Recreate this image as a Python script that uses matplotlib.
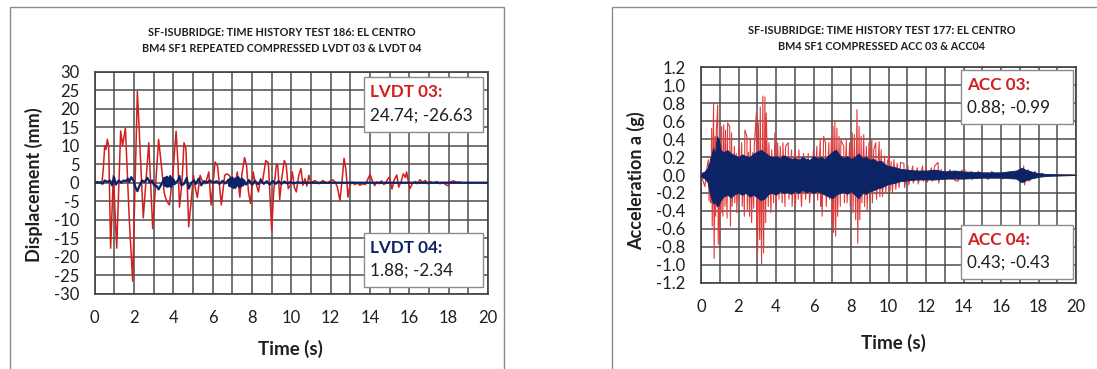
import matplotlib
matplotlib.use("Agg")
import matplotlib.pyplot as plt
from matplotlib.patches import Rectangle
from matplotlib.ticker import MultipleLocator

plt.rcParams['font.family'] = ['Lato', 'DejaVu Sans']
plt.rcParams['axes.unicode_minus'] = False

# ---- Test 186: LVDT displacements (mm), peaks ----
lvdt03_t = [0.0, 0.15, 0.30, 0.38, 0.44, 0.51, 0.58, 0.64, 0.71, 0.81,
            0.95, 1.12, 1.32, 1.42, 1.56, 1.76, 1.93, 2.17, 2.47, 2.75,
            2.95, 3.25, 3.32, 3.39, 3.53, 3.59, 3.69, 3.80, 3.97, 4.14,
            4.24, 4.31, 4.44, 4.54, 4.64, 4.78, 4.92, 5.02, 5.12, 5.22,
            5.36, 5.46, 5.63, 5.80, 5.92, 6.12, 6.25, 6.44, 6.61, 6.71,
            6.83, 6.94, 7.05, 7.18, 7.25, 7.38, 7.48, 7.62, 7.72, 7.82,
            7.92, 8.06, 8.12, 8.23, 8.33, 8.43, 8.53, 8.70, 8.83, 9.00,
            9.10, 9.24, 9.31, 9.41, 9.51, 9.64, 9.74, 9.84, 9.95, 10.05,
            10.15, 10.25, 10.38, 10.49, 10.59, 10.69, 10.79, 10.89, 10.99, 11.2,
            11.4, 11.6, 11.8, 11.97, 12.10, 12.24, 12.34, 12.47, 12.58, 12.68,
            12.78, 12.88, 12.98, 13.08, 13.22, 13.36, 13.49, 13.63, 13.76, 13.86,
            14.0, 14.14, 14.24, 14.34, 14.47, 14.58, 14.68, 14.78, 14.88, 14.98,
            15.12, 15.22, 15.36, 15.46, 15.59, 15.69, 15.80, 15.86, 15.97, 16.03,
            16.17, 16.31, 16.41, 16.54, 16.68, 16.81, 16.92, 17.05, 17.22, 17.39,
            17.56, 17.73, 17.86, 17.97, 18.07, 18.24, 18.41, 18.58]
lvdt03_v = [0, 0.3, -0.2, 0.5, 4, 10, 9, 11.7, 10, -17.7,
            2, -17.7, 14, 10, 14.8, -10, -26.6, 24.7, -9.5, 10.8,
            -12.4, 11.7, 8, 4.6, -2.5, -3.9, -5.2, -6, 2, 13.9,
            4.6, -6.6, 0.2, 10.8, 9.2, -11.9, -4.3, 2, -1.6, -4,
            2, 0.6, -0.3, 2.9, -6, 5.6, 4.5, -6, 2, 2.4,
            2, 1.3, -1.6, 0.2, 2.9, -3.9, 2, 6.8, 4.7, -2.5,
            -5.6, 2.9, 1.1, -0.7, -2.5, 1.1, 0.2, 6, 5.4, -12.9,
            -2.5, 5, 4.7, -4.5, 1.1, 6, 4.7, -1.6, -0.7, 2.9,
            -1.2, -2.5, 2, 3.8, -0.7, 1.1, -0.9, 2, 0, 0.6,
            -0.3, 0.6, -0.2, 0.4, 0.8, 0.1, -1.2, -4.8, 0.6, 6.6,
            3.3, -3.9, -0.7, 0.2, -0.5, -0.1, -0.7, -0.3, -0.5, 0.6,
            2.3, 0.2, -0.8, 0.2, -0.3, 0.5, -0.4, -0.3, 0.8, 1.5,
            -1.7, 0.6, 2.1, -1.2, 0.4, 2.4, 1.4, 2.9, -0.3, -1.6,
            -0.1, 0.3, -0.3, 0.8, 0.1, 0.6, -0.3, 0.3, -0.1, 0.3,
            -0.3, 0.1, -0.6, -0.8, 0.1, 0.5, 0.1, 0.2]

lvdt04_t = [0, 0.3, 0.4, 0.51, 0.64, 0.78, 0.88, 0.98, 1.08, 1.22,
            1.36, 1.46, 1.59, 1.69, 1.76, 1.86, 1.97, 2.07, 2.17, 2.27,
            2.41, 2.54, 2.68, 2.81, 2.92, 3.02, 3.15, 3.25, 3.36, 3.46,
            3.52, 3.56, 3.60, 3.64, 3.68, 3.72, 3.76, 3.80, 3.84, 3.88,
            3.92, 3.96, 4.00, 4.06, 4.14, 4.24, 4.31, 4.41, 4.54, 4.68,
            4.78, 4.92, 5.05, 5.15, 5.29, 5.42, 5.56, 5.70, 5.86, 6.03,
            6.2, 6.35, 6.5, 6.65, 6.8, 6.85, 6.9, 6.95, 7.0, 7.05,
            7.1, 7.15, 7.2, 7.25, 7.3, 7.35, 7.4, 7.45, 7.5, 7.55,
            7.6, 7.7, 7.85, 8.0, 8.15, 8.3, 8.45, 8.6, 8.75, 8.9,
            9.05, 9.2, 9.35, 9.5, 9.65, 9.8, 9.95, 10.1, 10.3, 10.5,
            10.8, 20]
lvdt04_v = [0, 0.1, -0.3, 0.6, 0.2, 0.6, -0.7, 1.5, -0.5, 0.6,
            0, 0.6, 0.4, 1.1, 0.2, 1.5, 0.6, -1.2, -2.3, -0.9,
            0.6, 0.2, 1.3, 0, 0.6, -0.7, -0.9, -1.8, -0.7, 0.2,
            1.2, -0.8, 1.4, -1.0, 1.6, -1.1, 1.3, -0.9, 1.8, -1.2,
            1.2, -0.6, 0.9, -0.4, 0.2, 0.6, 1.8, -0.7, -0.3, 1.3,
            -1.6, 0, 0.6, -0.3, 1.1, -0.7, 0.4, 0, 0.6, 0,
            0.4, -0.3, 0.5, -0.2, 0.8, -0.9, 1.2, -1.1, 1.4, -1.3,
            1.0, -1.4, 1.3, -0.8, 1.5, -1.2, 0.9, -1.0, 1.1, -0.7,
            0.6, -0.5, 0.7, -0.6, 0.5, -0.4, 0.6, -0.3, 0.4, -0.5,
            0.5, -0.3, 0.4, -0.3, 0.3, -0.2, 0.2, -0.2, 0.1, 0,
            0, 0]

# ---- Test 177: accelerations (g) ----
acc03_t = [0, 0.21, 0.30, 0.39, 0.43, 0.50, 0.53, 0.57, 0.60, 0.67,
           0.70, 0.75, 0.78, 0.82, 0.89, 0.92, 0.96, 0.99, 1.03, 1.07,
           1.10, 1.17, 1.21, 1.28, 1.31, 1.39, 1.42, 1.53, 1.57, 1.63,
           1.66, 1.78, 1.80, 1.88, 1.91, 2.02, 2.05, 2.17, 2.20, 2.26,
           2.31, 2.34, 2.45, 2.47, 2.53, 2.59, 2.63, 2.70, 2.76, 2.81,
           2.84, 2.95, 2.97, 2.99, 3.02, 3.06, 3.13, 3.16, 3.23, 3.30,
           3.34, 3.41, 3.45, 3.48, 3.59, 3.62, 3.73, 3.77, 3.87, 3.94,
           4.01, 4.09, 4.16, 4.23, 4.33, 4.37, 4.48, 4.51, 4.65, 4.69,
           4.83, 4.86, 5.01, 5.04, 5.12, 5.19, 5.22, 5.36, 5.47, 5.58,
           5.72, 5.79, 6.00, 6.04, 6.18, 6.22, 6.36, 6.40, 6.43, 6.46,
           6.54, 6.64, 6.68, 6.82, 6.86, 6.96, 6.99, 7.04, 7.07, 7.14,
           7.18, 7.25, 7.29, 7.36, 7.43, 7.46, 7.61, 7.65, 7.75, 7.79,
           7.93, 7.96, 8.07, 8.11, 8.18, 8.25, 8.32, 8.36, 8.43, 8.47,
           8.54, 8.58, 8.68, 8.72, 8.82, 8.86, 8.96, 9.00, 9.11, 9.14,
           9.21, 9.32, 9.36, 9.50, 9.54, 9.61, 9.68, 9.79, 9.86, 9.93,
           10.04, 10.08, 10.14, 10.21, 10.29, 10.39, 10.46, 10.57, 10.64, 10.82,
           10.86, 11.04, 11.08, 11.29, 11.32, 11.54, 11.58, 11.82, 11.86, 12.0,
           12.07, 12.29, 12.33, 12.46, 12.64, 12.68, 12.82, 12.86, 13.0, 13.04,
           13.27, 13.54, 13.71, 13.9, 14.07, 14.11, 14.43, 14.46, 14.79, 15.32,
           15.5, 16.04, 16.39, 16.75, 17.11, 17.15, 17.21, 17.25, 17.46, 17.5,
           17.82, 17.86, 18.18, 18.3, 20]
acc03_v = [0, -0.13, 0.06, 0.17, -0.29, 0.20, -0.31, 0.52, -0.57, 0.80,
           -0.93, 0.43, -0.46, 0.50, 0.78, -0.77, 0.39, -0.72, 0.20, -0.42,
           0.54, -0.46, 0.56, -0.35, 0.50, -0.48, 0.58, 0.54, -0.57, 0.47,
           -0.35, 0.32, -0.31, 0.24, -0.42, 0.32, -0.27, 0.36, -0.35, 0.20,
           -0.46, 0.50, 0.43, -0.39, 0.25, -0.46, 0.41, -0.53, 0.25, -0.37,
           0.32, 0.69, -0.57, 0.20, -0.87, 0.58, -0.72, 0.76, -0.99, 0.88,
           -0.87, 0.87, -0.53, 0.69, -0.35, 0.36, -0.42, 0.28, -0.31, 0.47,
           -0.35, 0.36, -0.27, 0.32, -0.31, 0.36, -0.35, 0.32, 0.36, -0.27,
           0.28, -0.35, 0.28, -0.35, 0.20, -0.27, 0.28, -0.35, 0.24, -0.27,
           0.24, -0.31, 0.28, -0.24, 0.32, -0.28, 0.39, -0.35, 0.15, -0.46,
           0.43, 0.36, -0.35, 0.36, -0.27, 0.43, -0.53, 0.54, -0.64, 0.60,
           -0.68, 0.52, -0.46, 0.43, -0.35, 0.39, 0.32, -0.31, 0.39, -0.31,
           0.36, -0.35, 0.47, -0.42, 0.45, -0.50, 0.73, -0.76, 0.54, -0.50,
           0.43, -0.31, 0.45, -0.35, 0.32, -0.39, 0.36, -0.27, 0.39, -0.31,
           0.28, 0.36, -0.27, 0.37, -0.24, 0.28, -0.24, 0.21, -0.20, 0.13,
           0.23, -0.18, 0.15, -0.20, 0.17, -0.16, 0.13, -0.14, 0.14, 0.13,
           -0.14, 0.10, -0.11, 0.10, -0.09, 0.08, -0.10, 0.10, -0.07, 0.09,
           -0.08, 0.08, -0.07, 0.10, 0.14, -0.09, 0.06, -0.05, 0.05, -0.06,
           0.06, -0.06, -0.07, 0.05, 0.06, -0.04, 0.04, -0.05, 0.04, -0.05,
           0.04, -0.05, 0.03, -0.04, 0.07, -0.08, 0.10, -0.11, 0.06, -0.07,
           0.04, -0.03, 0.02, 0, 0]

# ACC 04: upper / lower edge of the dense blue trace
acc04_t = [0, 0.2, 0.35, 0.45, 0.55, 0.65, 0.75, 0.85, 0.95, 1.05,
           1.2, 1.4, 1.6, 1.8, 2.0, 2.2, 2.4, 2.6, 2.8, 3.0,
           3.2, 3.4, 3.6, 3.8, 4.0, 4.2, 4.4, 4.6, 4.8, 5.0,
           5.2, 5.4, 5.6, 5.8, 6.0, 6.2, 6.4, 6.6, 6.8, 7.0,
           7.2, 7.4, 7.6, 7.8, 8.0, 8.2, 8.4, 8.6, 8.8, 9.0,
           9.2, 9.4, 9.6, 9.8, 10.0, 10.3, 10.6, 11.0, 11.5, 12.0,
           12.5, 13.0, 13.5, 14.0, 15.0, 16.0, 16.8, 17.1, 17.3, 17.6,
           18.0, 18.5, 20]
acc04_hi = [0.02, 0.04, 0.08, 0.14, 0.22, 0.30, 0.24, 0.43, 0.40, 0.28,
            0.25, 0.28, 0.24, 0.22, 0.20, 0.23, 0.21, 0.20, 0.24, 0.26,
            0.28, 0.25, 0.22, 0.20, 0.21, 0.19, 0.22, 0.20, 0.18, 0.19,
            0.17, 0.20, 0.18, 0.17, 0.21, 0.19, 0.20, 0.18, 0.22, 0.26,
            0.28, 0.22, 0.19, 0.21, 0.18, 0.20, 0.24, 0.19, 0.20, 0.17,
            0.18, 0.15, 0.16, 0.12, 0.10, 0.09, 0.07, 0.06, 0.05, 0.05,
            0.06, 0.04, 0.05, 0.04, 0.03, 0.03, 0.05, 0.08, 0.06, 0.04,
            0.02, 0.01, 0.0]
acc04_lo = [-0.02, -0.04, -0.08, -0.18, -0.26, -0.32, -0.30, -0.35, -0.33, -0.28,
            -0.24, -0.22, -0.25, -0.21, -0.20, -0.22, -0.20, -0.24, -0.22, -0.25,
            -0.28, -0.26, -0.21, -0.20, -0.22, -0.18, -0.20, -0.19, -0.21, -0.18,
            -0.20, -0.17, -0.19, -0.18, -0.20, -0.18, -0.20, -0.22, -0.24, -0.26,
            -0.22, -0.20, -0.19, -0.21, -0.18, -0.22, -0.26, -0.20, -0.21, -0.18,
            -0.17, -0.15, -0.14, -0.12, -0.10, -0.09, -0.07, -0.06, -0.05, -0.05,
            -0.05, -0.04, -0.04, -0.04, -0.03, -0.03, -0.04, -0.08, -0.06, -0.04,
            -0.02, -0.01, 0.0]

RED = "#d11f1f"
RED_LIGHT = "#e23a3a"
NAVY = "#0c2466"
GRID = "#4d4d4d"
TXT = "#1f1f1f"

W, H = 1097, 369
fig = plt.figure(figsize=(W / 100, H / 100), dpi=100)


def fx(px):
    return px / W


def fy(py):
    return 1 - py / H


def add_axes(x0, y0, x1, y1):
    return fig.add_axes([fx(x0), fy(y1), (x1 - x0) / W, (y1 - y0) / H])


def style(ax, ymin, ymax, ystep, fmt):
    ax.set_xlim(0, 20)
    ax.set_ylim(ymin, ymax)
    ax.xaxis.set_major_locator(MultipleLocator(2))
    ax.xaxis.set_minor_locator(MultipleLocator(1))
    ax.yaxis.set_major_locator(MultipleLocator(ystep))
    ax.grid(True, which="both", color=GRID, lw=1.1)
    ax.set_axisbelow(True)
    ax.tick_params(which="both", length=0, labelsize=12, colors=TXT)
    ax.tick_params(axis="x", pad=12)
    ax.tick_params(axis="y", pad=11)
    ax.yaxis.set_major_formatter(fmt)
    for s in ax.spines.values():
        s.set_color("#404040")
        s.set_linewidth(1.2)


def panel_frame(x0, y0, x1):
    fig.add_artist(Rectangle((fx(x0), -0.05), (x1 - x0) / W, fy(y0) + 0.05,
                             transform=fig.transFigure, fill=False,
                             ec="#8c8c8c", lw=1.0))


def value_box(x0, y0, x1, y1, label, label_color, values):
    fig.add_artist(Rectangle((fx(x0), fy(y1)), (x1 - x0) / W, (y1 - y0) / H,
                             transform=fig.transFigure, fc="white",
                             ec="#8c8c8c", lw=1.0, zorder=5))
    fig.text(fx(x0 + 6), fy(y0 + 15), label, color=label_color,
             fontsize=12.3, fontweight="bold", va="center", zorder=6)
    fig.text(fx(x0 + 6), fy(y0 + 38), values, color=TXT,
             fontsize=12.3, va="center", zorder=6)


# ---------------- left panel ----------------
panel_frame(9.6, 7, 504)
ax1 = add_axes(94.7, 71.7, 488, 293.7)
style(ax1, -30, 30, 5, "{x:.0f}")
ax1.plot(lvdt03_t, lvdt03_v, color=RED, lw=1.1, zorder=3)
ax1.plot(lvdt04_t, lvdt04_v, color=NAVY, lw=1.6, zorder=4)

fig.text(fx(282), fy(32), "SF-ISUBRIDGE: TIME HISTORY TEST 186: EL CENTRO",
         ha="center", va="center", fontsize=7.8, fontweight="bold", color=TXT)
fig.text(fx(282), fy(49), "BM4 SF1 REPEATED COMPRESSED LVDT 03 & LVDT 04",
         ha="center", va="center", fontsize=7.8, fontweight="bold", color=TXT)
fig.text(fx(34), fy(185), "Displacement (mm)", rotation=90, ha="center",
         va="center", fontsize=13, fontweight="bold", color=TXT)
fig.text(fx(290), fy(349), "Time (s)", ha="center", va="center",
         fontsize=13.5, fontweight="bold", color=TXT)
value_box(364, 77.3, 482.7, 131.7, "LVDT 03:", RED, "24.74; -26.63")
value_box(364, 232.7, 482.7, 286.7, "LVDT 04:", NAVY, "1.88; -2.34")

# ---------------- right panel ----------------
panel_frame(612, 7, 1110)
ax2 = add_axes(701, 67.3, 1076, 282.7)
style(ax2, -1.2, 1.2, 0.2, "{x:.1f}")
ax2.plot(acc03_t, acc03_v, color=RED_LIGHT, lw=0.8, zorder=3)
ax2.fill_between(acc04_t, acc04_lo, acc04_hi, color=NAVY, lw=0.6, zorder=4)

fig.text(fx(882), fy(31), "SF-ISUBRIDGE: TIME HISTORY TEST 177: EL CENTRO",
         ha="center", va="center", fontsize=7.8, fontweight="bold", color=TXT)
fig.text(fx(882), fy(47), "BM4 SF1 COMPRESSED ACC 03 & ACC04",
         ha="center", va="center", fontsize=7.8, fontweight="bold", color=TXT)
fig.text(fx(636), fy(181), "Acceleration a (g)", rotation=90, ha="center",
         va="center", fontsize=13, fontweight="bold", color=TXT)
fig.text(fx(893), fy(343), "Time (s)", ha="center", va="center",
         fontsize=13.5, fontweight="bold", color=TXT)
value_box(961.3, 70, 1073.3, 124, "ACC 03:", RED, "0.88; -0.99")
value_box(961.3, 224.7, 1073.3, 278.7, "ACC 04:", RED, "0.43; -0.43")

fig.savefig("out.png", dpi=100)
